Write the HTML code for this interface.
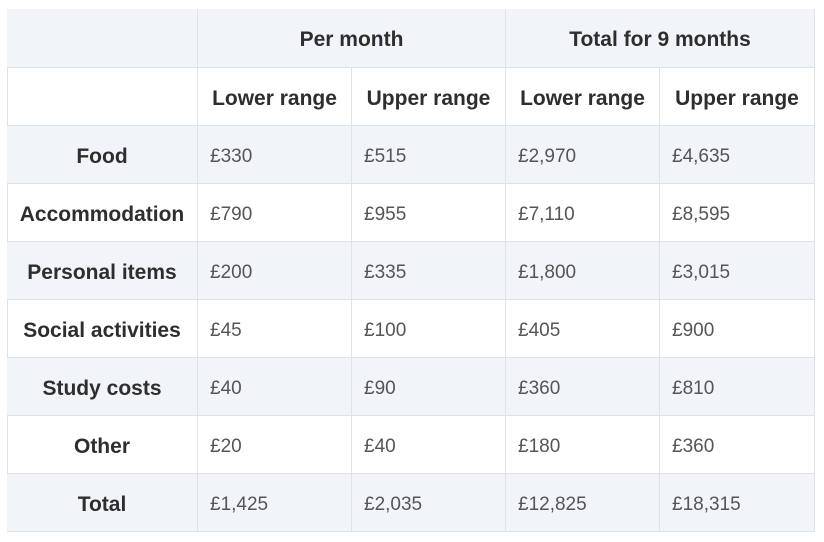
<!DOCTYPE html>
<html><head><meta charset="utf-8"><style>
body{margin:0;width:824px;height:542px;background:#fff;font-family:"Liberation Sans",sans-serif;position:relative;overflow:hidden}
.c{position:absolute;box-sizing:border-box;border-right:1px solid #dfe3e8;border-bottom:1px solid #dfe3e8;display:flex;align-items:center;font-size:19px;padding-top:4px}
.h{font-weight:bold;color:#2e2e2e;justify-content:center;font-size:21px}
.d{color:#555;padding-left:12px}
.s{background:#f1f4f8}
</style></head><body>
<div id="t" style="position:absolute;left:7px;top:9px;width:808px;height:523px;border-left:1px solid #dfe3e8;border-top:1px solid #dfe3e8;box-sizing:border-box"></div>
<script>
const rows=["Food","Accommodation","Personal items","Social activities","Study costs","Other","Total"];
const vals=[["£330","£515","£2,970","£4,635"],["£790","£955","£7,110","£8,595"],["£200","£335","£1,800","£3,015"],["£45","£100","£405","£900"],["£40","£90","£360","£810"],["£20","£40","£180","£360"],["£1,425","£2,035","£12,825","£18,315"]];
const xs=[7,198,352,506,660,815];
const ys=[9,68,126,184,242,300,358,416,474,532];
function cell(x0,x1,y0,y1,txt,cls,name){
 const d=document.createElement('div');
 
 
 d.className='c '+cls;
 d.style.left=x0+'px';d.style.top=y0+'px';d.style.width=(x1-x0)+'px';d.style.height=(y1-y0)+'px';
 d.textContent=txt;document.body.appendChild(d);
}
cell(xs[0],xs[1],ys[0],ys[1],'','s','corner-cell');
cell(xs[1],xs[3],ys[0],ys[1],'Per month','h s','per-month-header');
cell(xs[3],xs[5],ys[0],ys[1],'Total for 9 months','h s','total-9-months-header');
cell(xs[0],xs[1],ys[1],ys[2],'','','blank-subheader');
["Lower range","Upper range","Lower range","Upper range"].forEach((t,i)=>cell(xs[i+1],xs[i+2],ys[1],ys[2],t,'h','range-header'));
rows.forEach((r,ri)=>{
 const sh=ri%2===0?' s':'';
 cell(xs[0],xs[1],ys[ri+2],ys[ri+3],r,'h'+sh,'row-label');
 vals[ri].forEach((v,ci)=>cell(xs[ci+1],xs[ci+2],ys[ri+2],ys[ri+3],v,'d'+sh,'value-cell'));
});
</script>
</body></html>
